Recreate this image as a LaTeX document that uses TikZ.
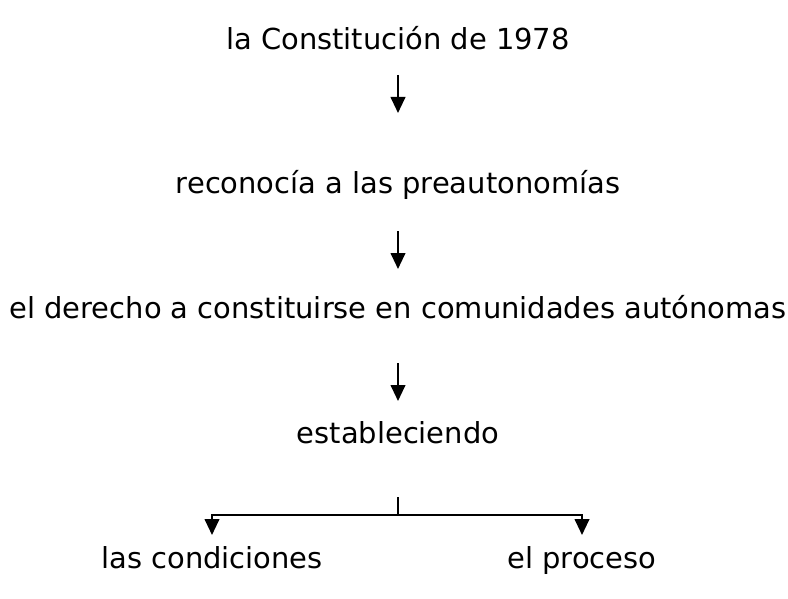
\documentclass[tikz,border=0pt]{standalone}
\usepackage{fontspec}
\setmainfont{DejaVu Sans}
\usetikzlibrary{arrows.meta}

\tikzset{
    concept/.style={inner sep=0pt, text height=19.5pt, text depth=2.2pt, font=\fontsize{21.7}{26}\selectfont},
    link/.style={line width=1.5pt, -{Triangle[length=12pt, width=11pt]}},
    stem/.style={line width=1.5pt}
}

\begin{document}
\begin{tikzpicture}[x=0.75pt, y=-0.75pt]
        \useasboundingbox (0, 0) rectangle (788, 599);

        % Draw concepts
        \node[concept] (constitucion) at (398, 38) {la Constitución de 1978};
        \node[concept] (reconocia) at (398, 182) {reconocía a las preautonomías};
        \node[concept] (derecho) at (398, 307) {el derecho a constituirse en comunidades autónomas};
        \node[concept] (estableciendo) at (398, 432) {estableciendo};
        \node[concept] (condiciones) at (212, 557) {las condiciones};
        \node[concept] (proceso) at (582, 557) {el proceso};

        % Draw arrows
        \draw[link, shorten <=27.75pt, shorten >=51.75pt] (constitucion.center) -- (reconocia.center);
        \draw[link, shorten <=36.75pt, shorten >=28.5pt] (reconocia.center) -- (derecho.center);
        \draw[link, shorten <=42pt, shorten >=23.25pt] (derecho.center) -- (estableciendo.center);

        % Draw branch
        \coordinate (fork) at (398, 515);
        \draw[stem, shorten <=48.75pt] (estableciendo.center) -- (fork);
        \draw[link, shorten >=16.5pt] (fork) -| (condiciones.center);
        \draw[link, shorten >=16.5pt] (fork) -| (proceso.center);
\end{tikzpicture}
\end{document}
